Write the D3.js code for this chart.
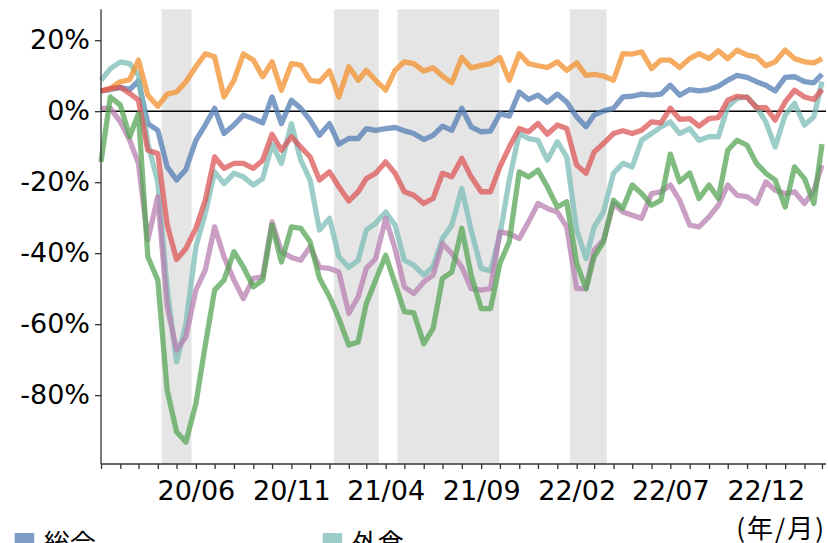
<!DOCTYPE html>
<html>
<head>
<meta charset="utf-8">
<script src="https://d3js.org/d3.v7.min.js"></script>
<style>
  body { margin: 0; background: #fff; }
  text { font-family: "DejaVu Sans", "Noto Sans CJK JP", sans-serif; }
</style>
</head>
<body>
<div id="chart"></div>
<script>
var width = 828,
    height = 543;

// half-month periods, 2020/01 (first half) .. 2023/03 (first half)
var periodCount = 77;

var seriesNames = ["総合", "財", "サービス", "外食", "旅行", "娯楽"];
var seriesColors = ["#517cb3", "#f28f2b", "#dc5656", "#7cbcb7", "#55a455", "#b780b0"];

var sogo = [5.7, 6.1, 6.7, 6.1, 8.5, -3.5, -5.4, -15.7, -19.4, -16.4,
  -8.2, -3.9, 0.8, -6.3, -3.9, -1.1, -2.1, -3.3, 4.0, -3.5,
  3.1, 0.8, -2.5, -6.8, -3.5, -9.3, -7.7, -7.7, -4.9, -5.4,
  -4.9, -4.6, -5.5, -6.3, -8.0, -6.8, -4.2, -5.4, 0.8, -4.4,
  -5.8, -5.6, -0.7, -1.4, 5.4, 3.3, 4.5, 2.5, 4.8, 2.6,
  -1.6, -4.4, -1.1, 0.1, 0.8, 4.0, 4.2, 4.8, 4.5, 4.8,
  7.3, 4.5, 6.1, 5.7, 6.1, 7.0, 8.7, 10.1, 9.5, 8.3,
  7.3, 5.7, 9.5, 9.7, 8.3, 8.0, 10.4];

var zai = [5.7, 6.4, 8.3, 8.9, 14.4, 4.5, 1.4, 4.8, 5.4, 8.3,
  12.5, 16.2, 15.3, 4.0, 8.7, 16.1, 14.4, 9.7, 13.9, 5.9,
  13.4, 13.0, 8.7, 8.3, 11.4, 4.0, 12.5, 8.7, 11.5, 8.7,
  5.9, 11.5, 13.9, 13.4, 11.3, 12.2, 9.9, 8.0, 15.1, 12.2,
  12.9, 13.4, 15.1, 8.7, 16.2, 13.4, 12.8, 12.3, 13.9, 11.5,
  13.6, 10.1, 10.4, 9.9, 8.7, 16.2, 16.1, 16.7, 12.0, 14.4,
  14.4, 12.3, 14.8, 16.2, 14.8, 17.0, 14.8, 17.2, 15.8, 15.3,
  12.8, 13.9, 17.2, 14.8, 13.9, 13.6, 14.8];

var service = [5.7, 6.4, 6.7, 5.0, 3.1, -11.0, -11.9, -32.0, -41.8, -38.7,
  -33.0, -25.1, -12.9, -16.1, -14.7, -14.7, -16.1, -13.8, -6.5, -11.0,
  -7.2, -10.1, -12.9, -19.4, -17.1, -21.3, -25.3, -22.7, -19.0, -17.5,
  -14.3, -17.5, -22.7, -23.7, -26.0, -24.6, -17.5, -18.5, -13.3, -18.5,
  -22.7, -22.7, -15.7, -10.1, -4.9, -5.8, -3.5, -6.5, -3.9, -4.9,
  -15.2, -17.5, -11.5, -9.1, -6.3, -5.5, -6.3, -5.4, -3.0, -3.3,
  0.8, -2.3, -2.1, -4.2, -2.1, -1.8, 3.1, 4.2, 3.9, 1.0,
  1.0, -2.5, 2.6, 5.9, 4.0, 3.3, 6.1];

var gaishoku = [8.7, 12.0, 13.9, 13.4, 10.1, -9.0, -20.0, -50.0, -70.6, -60.0,
  -38.2, -28.8, -17.1, -20.4, -17.5, -18.5, -20.8, -19.0, -9.3, -14.7,
  -3.5, -13.8, -19.4, -33.5, -30.2, -41.0, -44.0, -42.0, -33.5, -31.6,
  -28.4, -32.1, -42.0, -43.4, -46.2, -43.8, -35.9, -32.1, -21.8, -33.5,
  -44.3, -45.0, -35.0, -19.4, -6.3, -7.7, -8.2, -13.8, -8.6, -12.9,
  -33.5, -41.5, -32.6, -28.4, -17.5, -14.7, -15.7, -8.2, -6.3, -4.4,
  -3.0, -6.3, -4.9, -8.2, -7.2, -7.2, 1.2, 3.6, 4.0, 1.2,
  -3.0, -10.1, -1.1, 2.2, -3.9, -1.6, 8.3];

var ryoko = [-14.3, 4.0, 1.7, -7.2, -0.7, -41.0, -47.6, -78.6, -90.3, -93.2,
  -82.4, -66.0, -50.4, -47.6, -39.6, -43.9, -49.5, -47.6, -32.1, -42.5,
  -32.6, -33.0, -36.8, -47.1, -52.3, -58.4, -65.9, -65.0, -54.2, -47.6,
  -40.6, -48.5, -56.5, -56.8, -65.5, -61.2, -47.1, -45.3, -33.0, -46.2,
  -55.6, -55.6, -42.9, -36.8, -17.1, -18.5, -16.6, -21.3, -27.0, -25.5,
  -42.9, -50.0, -41.0, -36.8, -25.1, -27.4, -20.8, -23.2, -26.5, -25.1,
  -12.1, -19.9, -17.4, -24.6, -20.8, -24.6, -11.0, -8.2, -9.6, -14.7,
  -17.5, -19.4, -27.0, -15.7, -19.0, -26.0, -9.3];

var goraku = [0.8, 0.8, -3.0, -8.2, -14.7, -36.3, -24.1, -55.0, -67.3, -63.6,
  -50.4, -44.8, -32.6, -41.0, -47.6, -52.8, -47.1, -46.7, -31.2, -39.6,
  -41.2, -42.0, -38.2, -44.0, -44.3, -45.3, -57.0, -52.3, -44.3, -41.5,
  -30.2, -38.7, -49.5, -51.4, -48.1, -46.2, -37.3, -40.1, -43.9, -50.0,
  -50.4, -50.0, -34.0, -34.5, -35.9, -31.2, -26.0, -27.4, -28.4, -32.6,
  -50.0, -50.0, -39.2, -36.3, -26.0, -28.4, -29.3, -30.2, -23.2, -22.7,
  -20.8, -25.1, -32.1, -32.6, -29.8, -26.5, -20.8, -23.7, -24.1, -26.0,
  -19.9, -22.3, -23.2, -22.7, -26.0, -22.3, -15.2];

var allSeries = [sogo, zai, service, gaishoku, ryoko, goraku];

// emergency declaration periods (shaded)
var shadeStarts = ["2020-04-07", "2021-01-08", "2021-04-20", "2022-01-21"];
var shadeEnds = ["2020-05-25", "2021-03-21", "2021-09-30", "2022-03-21"];

var yTicks = [20, 0, -20, -40, -60, -80];
var xLabelMonths = ["2020-06", "2020-11", "2021-04", "2021-09", "2022-02", "2022-07", "2022-12"];

var parseDay = d3.timeParse("%Y-%m-%d"),
    parseMonth = d3.timeParse("%Y-%m");

var dates = d3.range(periodCount).map(function(i) {
  return new Date(2020, Math.floor(i / 2), i % 2 === 0 ? 1 : 16);
});

var plotLeft = 101, plotRight = 822, axisEnd = 826,
    plotTop = 9.3, plotBottom = 464;

var x = d3.scaleTime()
    .domain([new Date(2020, 0, 1), new Date(2023, 2, 1)])
    .range([plotLeft, plotRight]);

var y = d3.scaleLinear()
    .domain([-99.4, 28.7])
    .range([plotBottom, plotTop]);

var svg = d3.select("#chart").append("svg")
    .attr("width", width)
    .attr("height", height);

// shaded periods
svg.append("g").selectAll("rect")
    .data(shadeStarts)
    .enter()
    .append("rect")
    .attr("x", function(d) { return x(parseDay(d)); })
    .attr("width", function(d, i) { return x(parseDay(shadeEnds[i])) - x(parseDay(d)); })
    .attr("y", plotTop)
    .attr("height", plotBottom - plotTop)
    .style("fill", "#e5e5e5");

// zero line
svg.append("line")
    .attr("x1", plotLeft).attr("x2", axisEnd)
    .attr("y1", y(0)).attr("y2", y(0))
    .style("stroke", "#000")
    .style("stroke-width", 1.5);

// lines
var line = d3.line()
    .x(function(d, i) { return x(dates[i]); })
    .y(function(d) { return y(d); });

var drawOrder = [0, 3, 1, 2, 5, 4];
svg.append("g").selectAll("path")
    .data(drawOrder)
    .enter()
    .append("path")
    .attr("d", function(k) { return line(allSeries[k]); })
    .style("fill", "none")
    .style("stroke", function(k) { return seriesColors[k]; })
    .style("stroke-width", 5.3)
    .style("stroke-linejoin", "round")
    .style("opacity", 0.75);

// y axis
var yAxis = d3.axisLeft(y)
    .tickValues(yTicks)
    .tickSize(6)
    .tickPadding(5)
    .tickFormat(function(d) { return d + "%"; });

var gy = svg.append("g")
    .attr("transform", "translate(" + plotLeft + ",0)")
    .call(yAxis);
gy.select(".domain").remove();
gy.append("line")
    .attr("x1", 0).attr("x2", 0)
    .attr("y1", plotTop).attr("y2", plotBottom)
    .style("stroke", "#333").style("stroke-width", 1.3);
gy.selectAll(".tick line").style("stroke", "#333").style("stroke-width", 1.3);
gy.selectAll(".tick text")
    .style("font-size", "27px")
    .style("fill", "#000");

// x axis: monthly ticks, labels every five months
var labelSet = xLabelMonths.map(function(m) { return +parseMonth(m); });
var xAxis = d3.axisBottom(x)
    .ticks(d3.timeMonth.every(1))
    .tickSize(5)
    .tickPadding(12)
    .tickFormat(function(d) {
      return labelSet.indexOf(+d) >= 0 ? d3.timeFormat("%y/%m")(d) : "";
    });

var gx = svg.append("g")
    .attr("transform", "translate(0," + plotBottom + ")")
    .call(xAxis);
gx.select(".domain").remove();
gx.append("line")
    .attr("x1", plotLeft).attr("x2", axisEnd)
    .attr("y1", 0).attr("y2", 0)
    .style("stroke", "#333").style("stroke-width", 1.3);
gx.selectAll(".tick line").style("stroke", "#333").style("stroke-width", 1.3);
gx.selectAll(".tick text")
    .style("font-size", "27px")
    .style("fill", "#000");

svg.append("text")
    .attr("x", 826)
    .attr("y", 538)
    .attr("text-anchor", "end")
    .style("font-family", "'Noto Sans CJK JP', sans-serif")
    .style("font-size", "26px")
    .style("letter-spacing", "2px")
    .text("(年/月)");

// legend (2 columns, filled column by column)
var legend = svg.append("g").selectAll("g")
    .data(seriesNames)
    .enter()
    .append("g")
    .attr("transform", function(d, i) {
      return "translate(" + (14.7 + Math.floor(i / 3) * 308) + "," + (533 + (i % 3) * 34) + ")";
    });

legend.append("rect")
    .attr("width", 19.5)
    .attr("height", 13)
    .style("fill", function(d, i) { return seriesColors[i]; })
    .style("opacity", 0.75);

legend.append("text")
    .attr("x", 29)
    .attr("y", 20)
    .style("font-family", "'Noto Sans CJK JP', sans-serif")
    .style("font-size", "26px")
    .text(function(d) { return d; });
</script>
</body>
</html>
